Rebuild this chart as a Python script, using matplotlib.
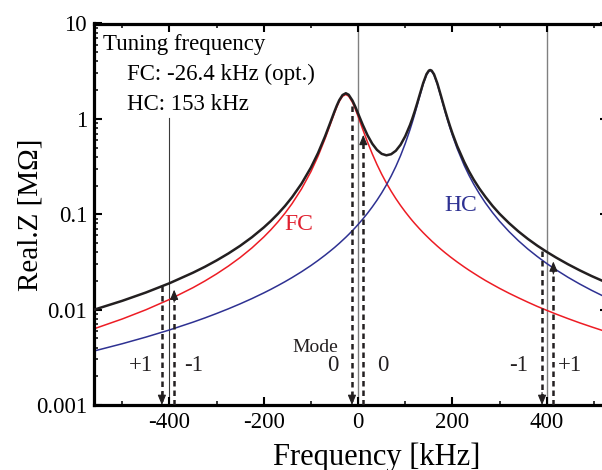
import numpy as np
import matplotlib
matplotlib.use('Agg')
import matplotlib.pyplot as plt
from matplotlib.ticker import FixedLocator, LogLocator, NullFormatter

plt.rcParams['font.family'] = ['Liberation Serif', 'DejaVu Serif']
plt.rcParams['axes.unicode_minus'] = False

# values (Real Z in MOhm vs detuning in kHz)
freq = [-560, -500, -450, -400, -350, -325, -300, -275, -250, -225, -200, -185,
        -170, -155, -140, -120, -100, -85, -70, -60, -50, -45, -40, -33, -26,
        -20, -12, -6, 0, 10, 20, 30, 40, 50, 60, 70, 80, 90, 100, 110, 115, 120,
        125, 130, 138, 145, 150, 153, 156, 161, 168, 176, 180, 185, 190, 195,
        200, 210, 225, 235, 245, 257, 270, 285, 300, 320, 340, 360, 380, 400,
        420, 445, 470, 495, 520]
z_fc = [0.00629, 0.00798, 0.00996, 0.01278, 0.0170, 0.01994, 0.0237, 0.02862,
        0.0352, 0.0444, 0.0577, 0.0687, 0.0831, 0.1025, 0.1293, 0.1842, 0.280,
        0.4055, 0.620, 0.845, 1.155, 1.337, 1.519, 1.725, 1.800, 1.729, 1.490,
        1.2706, 1.060, 0.7735, 0.5703, 0.4301, 0.3324, 0.2630, 0.2124, 0.1747,
        0.1459, 0.1236, 0.1059, 0.0917, 0.0856, 0.0801, 0.0752, 0.0706, 0.0641,
        0.0592, 0.0560, 0.0542, 0.0524, 0.0498, 0.0463, 0.0428, 0.0412, 0.0393,
        0.03759, 0.0359, 0.0344, 0.0316, 0.0280, 0.02593, 0.0241, 0.02210,
        0.0202, 0.01835, 0.0167, 0.01485, 0.0133, 0.01196, 0.0108, 0.00983,
        0.00897, 0.00805, 0.00726, 0.00659, 0.00600]
z_hc = [0.00368, 0.00439, 0.00515, 0.00612, 0.00739, 0.00818, 0.00911, 0.01020,
        0.0115, 0.01306, 0.01497, 0.01632, 0.01787, 0.01963, 0.02168, 0.02494,
        0.0290, 0.03275, 0.03725, 0.0408, 0.0448, 0.0471, 0.0495, 0.0533, 0.0574,
        0.0614, 0.0674, 0.0724, 0.0781, 0.0891, 0.1026, 0.1193, 0.1403, 0.1674,
        0.2029, 0.2508, 0.3168, 0.4115, 0.552, 0.770, 0.9233, 1.119, 1.368,
        1.681, 2.312, 2.885, 3.151, 3.200, 3.151, 2.885, 2.312, 1.681, 1.425,
        1.164, 0.9587, 0.7976, 0.6706, 0.4887, 0.3248, 0.2564, 0.2071, 0.1644,
        0.1313, 0.1041, 0.0844, 0.0658, 0.0527, 0.04314, 0.0360, 0.03042,
        0.0261, 0.02183, 0.01854, 0.01594, 0.01385]
z_total = [0.00997, 0.01237, 0.01511, 0.0189, 0.0244, 0.0281, 0.0328, 0.0388,
           0.0467, 0.0575, 0.0727, 0.0850, 0.1010, 0.1221, 0.1510, 0.2091,
           0.309, 0.438, 0.657, 0.886, 1.200, 1.384, 1.569, 1.778, 1.857, 1.790,
           1.557, 1.343, 1.138, 0.863, 0.673, 0.549, 0.473, 0.430, 0.415, 0.426,
           0.463, 0.535, 0.658, 0.862, 1.009, 1.199, 1.443, 1.752, 2.376, 2.944,
           3.207, 3.254, 3.203, 2.935, 2.358, 1.724, 1.466, 1.203, 0.9963, 0.834,
           0.705, 0.520, 0.353, 0.2823, 0.231, 0.1865, 0.152, 0.1224, 0.101,
           0.0807, 0.066, 0.0551, 0.0468, 0.0403, 0.0351, 0.0299, 0.0258, 0.0225,
           0.01985]

# revolution harmonics (thin vertical lines)
mode_lines = [-400, 0, 400]
# dashed arrows: down ones start at the total curve, up ones end near the cavity curves
down_x = [-416, -13, 390]
down_top = [0.0175, 1.37, 0.041]
up_x = [-390, 11, 414]
up_top = [0.0162, 0.68, 0.032]

fig = plt.figure(figsize=(6.02, 4.70), dpi=100)
ax = fig.add_axes([0.1561, 0.1383, 0.854, 0.8117])
ax.set_yscale('log')
ax.set_xlim(-560, 530)
ax.set_ylim(0.001, 10)

# thin lines at the harmonics
ax.plot([mode_lines[0], mode_lines[0]], [0.001, 1.02], color='#3a3a3a', lw=0.8, zorder=1)
for xm in mode_lines[1:]:
    ax.axvline(xm, color='#808080', lw=1.0, zorder=1)

ax.plot(freq, z_fc, color='#ed1c24', lw=1.1, zorder=2)
ax.plot(freq, z_hc, color='#2e3192', lw=1.1, zorder=2)
ax.plot(freq, z_total, color='#231f20', lw=1.8, zorder=3)

dark = '#231f20'
for xd, yt in zip(down_x, down_top):
    ax.plot([xd, xd], [yt, 0.0011], color=dark, lw=1.8, ls=(0, (2.2, 1.6)), zorder=4)
    ax.annotate('', xy=(xd, 0.001), xytext=(0, 9), textcoords='offset points',
                arrowprops=dict(arrowstyle='-|>,head_length=0.6,head_width=0.25',
                                color=dark, lw=0.8, shrinkA=0, shrinkB=0), zorder=5)
for xu, yt in zip(up_x, up_top):
    ax.plot([xu, xu], [0.001, yt * 0.85], color=dark, lw=1.8, ls=(0, (2.2, 1.6)), zorder=4)
    ax.annotate('', xy=(xu, yt), xytext=(0, -9), textcoords='offset points',
                arrowprops=dict(arrowstyle='-|>,head_length=0.6,head_width=0.25',
                                color=dark, lw=0.8, shrinkA=0, shrinkB=0), zorder=5)

# axis cosmetics
ax.set_xticks([-400, -200, 0, 200, 400])
ax.set_xticklabels(['-400', '-200', '0', '200', '400'])
ax.xaxis.set_minor_locator(FixedLocator([-500, -300, -100, 100, 300, 500]))
ax.set_yticks([0.001, 0.01, 0.1, 1, 10])
ax.set_yticklabels(['0.001', '0.01', '0.1', '1', '10'])
ax.yaxis.set_minor_locator(LogLocator(base=10, subs=np.arange(2, 10)))
ax.yaxis.set_minor_formatter(NullFormatter())
ax.tick_params(which='both', direction='in', top=True, right=True, colors='black')
ax.tick_params(which='major', length=5.5, width=1.5, labelsize=16.5, pad=5)
ax.tick_params(which='minor', length=3, width=1.1)
for sp in ax.spines.values():
    sp.set_linewidth(2.3)

ax.set_xlabel('Frequency [kHz]', fontsize=22, va='baseline')
ax.xaxis.set_label_coords(0.549, -0.158)
ax.set_ylabel('Real.Z [MΩ]', fontsize=21, va='baseline')
ax.yaxis.set_label_coords(-0.109, 0.498)

# labels
ax.text(-125, 0.078, 'FC', color='#e0202f', fontsize=17, ha='center', va='center')
ax.text(218, 0.123, 'HC', color='#2e3192', fontsize=17, ha='center', va='center')
ax.text(-91, 0.0040, 'Mode', color=dark, fontsize=14, ha='center', va='center')
for xt, s in [(-460, '+1'), (-348, '-1'), (-53, '0'), (53, '0'), (340, '-1'), (450, '+1')]:
    ax.text(xt, 0.00262, s, color=dark, fontsize=16.5, ha='center', va='center')

fig.text(103 / 602, 1 - 50 / 470, 'Tuning frequency', fontsize=16.5, va='baseline')
fig.text(127 / 602, 1 - 80 / 470, 'FC: -26.4 kHz (opt.)', fontsize=16.5, va='baseline')
fig.text(127 / 602, 1 - 110 / 470, 'HC: 153 kHz', fontsize=16.5, va='baseline')

fig.savefig('out.png', dpi=100)
